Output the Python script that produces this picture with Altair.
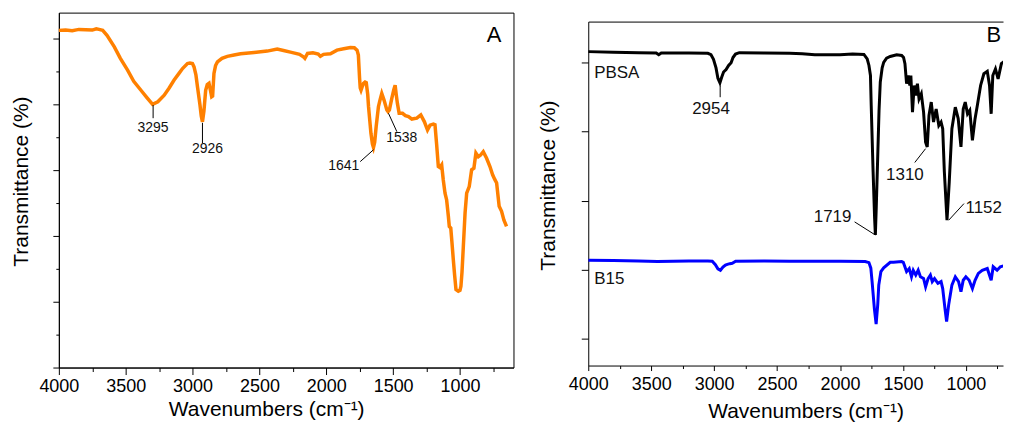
import altair as alt
import pandas as pd

FONT = "Liberation Sans"
ORANGE = "#FF8000"

# ---------------- Panel A : spectrum ----------------
a_wn = [4000, 3950, 3900, 3850, 3800, 3750, 3720, 3700, 3672, 3640, 3585, 3540, 3486, 3440, 3386,
        3340, 3299, 3260, 3212, 3175, 3138, 3100, 3075, 3038, 3020, 3001, 2989, 2975, 2963, 2945,
        2935, 2926, 2915, 2902, 2890, 2877, 2865, 2857, 2850, 2840, 2828, 2814, 2780, 2740, 2690,
        2641, 2540, 2442, 2367, 2320, 2268, 2200, 2169, 2160, 2140, 2100, 2060, 2044, 2020, 1969,
        1920, 1870, 1820, 1790, 1770, 1760, 1751, 1746, 1740, 1730, 1721, 1710, 1701, 1690, 1684,
        1666, 1655, 1647, 1638, 1627, 1610, 1597, 1585, 1568, 1547, 1538, 1528, 1510, 1495, 1485,
        1477, 1468, 1455, 1430, 1408, 1385, 1360, 1340, 1323, 1293, 1266, 1243, 1224, 1199, 1187,
        1175, 1162, 1150, 1137, 1125, 1112, 1100, 1087, 1080, 1069, 1060, 1050, 1040, 1030, 1013,
        1000, 993, 985, 975, 962, 950, 931, 913, 896, 881, 863, 846, 826, 801, 776, 756, 740, 726,
        707, 689, 672, 652]
a_tr = [102.5, 102.6, 102.4, 102.8, 102.7, 102.6, 103.0, 102.8, 102.5, 101.0, 97.5, 94.0, 90.4, 87.0, 84.3,
        82.0, 80.0, 80.8, 82.8, 85.0, 87.4, 89.5, 90.9, 92.4, 92.6, 92.4, 91.4, 89.0, 85.3, 80.0,
        76.5, 74.7, 78.0, 84.3, 86.0, 86.4, 84.0, 82.3, 82.5, 89.4, 91.8, 92.9, 94.0, 94.6, 95.0,
        95.4, 95.8, 96.2, 96.8, 96.4, 95.9, 95.2, 94.4, 94.0, 95.5, 95.7, 95.3, 94.6, 95.2, 95.4,
        96.5, 96.9, 97.3, 97.2, 96.5, 95.0, 88.0, 85.0, 84.3, 85.5, 86.4, 86.8, 86.6, 83.0, 79.3,
        71.2, 68.0, 66.9, 68.5, 73.2, 79.3, 81.5, 83.3, 81.3, 78.3, 77.8, 78.3, 81.8, 84.5, 85.8,
        83.0, 80.3, 77.3, 77.3, 76.6, 76.3, 75.5, 75.7, 75.8, 76.8, 74.7, 72.2, 73.7, 74.0, 73.8,
        68.0, 61.1, 60.8, 61.6, 57.0, 53.0, 51.0, 46.0, 42.9, 42.4, 38.0, 32.8, 28.0, 23.7, 23.2,
        23.5, 24.7, 29.0, 36.8, 47.0, 53.0, 55.0, 60.1, 60.6, 65.2, 64.1, 64.6, 65.6, 63.6, 61.1,
        58.6, 57.2, 56.1, 49.0, 47.5, 44.9, 42.9]

a_lab_text = ["3295", "2926", "1641", "1538"]
a_lab_x = [3295, 2889, 1870, 1435]
a_lab_y = [72.9, 66.4, 61.4, 69.9]
a_lead_x1 = [3295, 2926, 1647, 1535]
a_lead_x2 = [3295, 2926, 1746, 1472]
a_lead_y1 = [79.8, 74.4, 66.2, 77.3]
a_lead_y2 = [75.8, 68.2, 62.6, 71.7]

# ---------------- Panel B : spectra ----------------
pbsa_wn = [4000, 3800, 3600, 3460, 3440, 3420, 3200, 3050, 3025, 3005, 2985, 2970, 2954, 2940, 2925,
           2905, 2885, 2865, 2850, 2830, 2800, 2600, 2400, 2300, 2200, 2000, 1900, 1810, 1784, 1770,
           1758, 1752, 1737, 1725, 1719, 1712, 1700, 1690, 1680, 1665, 1653, 1630, 1601, 1550, 1510,
           1495, 1484, 1471, 1458, 1445, 1437, 1424, 1411, 1398, 1385, 1372, 1354, 1336, 1320, 1307,
           1293, 1275, 1257, 1236, 1215, 1197, 1184, 1171, 1150, 1132, 1111, 1084, 1061, 1039, 1021,
           1005, 987, 969, 948, 927, 909, 883, 857, 830, 812, 799, 786, 765, 744, 718, 686, 676]
pbsa_tr = [83.2, 83.0, 82.9, 82.8, 82.3, 82.8, 82.8, 82.7, 82.3, 81.0, 78.5, 75.5, 74.2, 75.8, 77.3,
           78.0, 79.2, 80.0, 81.5, 82.5, 82.9, 82.8, 82.7, 82.6, 82.3, 82.3, 82.5, 82.4, 81.1, 79.2,
           76.3, 67.6, 48.4, 35.0, 30.1, 38.0, 53.2, 66.0, 74.4, 78.5, 80.1, 81.3, 81.8, 82.3, 82.1,
           81.5, 79.7, 73.9, 76.3, 73.4, 76.3, 65.7, 73.4, 70.5, 73.9, 69.5, 71.0, 65.7, 57.0, 55.6,
           64.7, 68.6, 62.8, 66.6, 61.8, 62.8, 60.9, 48.4, 34.4, 45.5, 60.9, 67.1, 63.8, 55.6, 66.6,
           68.6, 65.2, 66.2, 57.5, 63.8, 67.6, 73.4, 76.8, 77.5, 73.4, 65.2, 76.3, 78.2, 75.3, 79.7, 80.6, 80.7]

b15_wn = [4000, 3800, 3600, 3450, 3200, 3050, 3015, 2990, 2970, 2950, 2930, 2910, 2895, 2875, 2856,
          2829, 2600, 2400, 2200, 2000, 1800, 1770, 1755, 1745, 1727, 1713, 1700, 1692, 1675, 1653,
          1601, 1575, 1510, 1497, 1471, 1450, 1432, 1418, 1398, 1379, 1361, 1336, 1320, 1300, 1282,
          1267, 1249, 1222, 1197, 1184, 1166, 1153, 1137, 1111, 1084, 1058, 1039, 1021, 1000, 974,
          948, 927, 901, 870, 830, 799, 783, 752, 726, 700, 676]
b15_tr = [22.8, 22.7, 22.6, 22.4, 22.6, 22.6, 22.5, 21.5, 20.3, 19.9, 20.8, 21.4, 21.6, 21.8, 21.9,
          22.5, 22.6, 22.5, 22.5, 22.5, 22.4, 22.1, 20.5, 16.6, 8.8, 4.3, 10.0, 15.6, 19.5, 20.6,
          22.2, 22.2, 22.4, 22.2, 19.5, 20.4, 18.0, 19.9, 18.5, 19.9, 18.0, 17.5, 15.1, 17.5, 18.5,
          16.6, 17.5, 16.1, 16.6, 14.6, 8.8, 5.0, 9.8, 15.6, 18.0, 16.6, 13.7, 17.0, 18.0, 17.0,
          14.6, 17.0, 19.0, 19.9, 20.4, 17.0, 20.9, 19.9, 20.9, 21.2, 21.3]

b_c_text = ["2954", "1719", "1310"]
b_c_x = [3025, 2059, 1484]
b_c_y = [66.6, 35.3, 47.4]
b_l_text = ["PBSA", "B15", "1152"]
b_l_x = [3953, 3953, 1003]
b_l_y = [77.0, 17.3, 38.0]
b_lead_x1 = [2952, 1884, 1406, 1136]
b_lead_x2 = [2952, 1719, 1320, 1015]
b_lead_y1 = [73.4, 33.9, 51.1, 34.4]
b_lead_y2 = [70.0, 30.1, 55.1, 39.2]

# ticks
x_major = [4000, 3500, 3000, 2500, 2000, 1500, 1000]
x_minor = [3750, 3250, 2750, 2250, 1750, 1250, 750]
a_y_major = [0, 20, 40, 60, 80, 100]
a_y_minor = [10, 30, 50, 70, 90]
b_y_major = [0, 20, 40, 60, 80]

XTITLE = "Wavenumbers (cm\u207b\u00b9)"
YTITLE = "Transmittance (%)"

# ---------------- build panel A ----------------
df_a = pd.DataFrame({"wn": a_wn, "tr": a_tr})
df_a_lab = pd.DataFrame({"x": a_lab_x, "y": a_lab_y, "t": a_lab_text})
df_a_lead = pd.DataFrame({"x1": a_lead_x1, "x2": a_lead_x2, "y1": a_lead_y1, "y2": a_lead_y2})
df_a_letter = pd.DataFrame({"x": [746], "y": [101.0], "t": ["A"]})

xs_a = alt.Scale(domain=[600, 4000], reverse=True, nice=False, zero=False)
ys_a = alt.Scale(domain=[0, 107.9], nice=False, zero=False)

a_line = alt.Chart(df_a).mark_line(color=ORANGE, strokeWidth=3.5).encode(
    x=alt.X("wn:Q", scale=xs_a, axis=alt.Axis(values=x_major, format="d", orient="bottom",
            tickSize=7, labelFontSize=18, labelPadding=3, labelFlush=False, title=XTITLE,
            titleFontSize=21, titlePadding=3, titleX=208)),
    y=alt.Y("tr:Q", scale=ys_a, axis=alt.Axis(values=a_y_major, labels=False, orient="left",
            tickSize=6, title=YTITLE, titleFontSize=21, titlePadding=21, titleY=169)),
)
a_rules = alt.Chart(df_a_lead).mark_rule(color="black", strokeWidth=1).encode(
    x=alt.X("x1:Q", scale=xs_a, axis=alt.Axis(values=x_minor, orient="bottom", tickSize=4,
            labels=False, domain=False, title=None)),
    x2="x2:Q",
    y=alt.Y("y1:Q", scale=ys_a, axis=alt.Axis(values=a_y_minor, orient="left", tickSize=3,
            labels=False, domain=False, title=None)),
    y2="y2:Q",
)
a_text = alt.Chart(df_a_lab).mark_text(fontSize=14, align="center", baseline="middle",
                                       color="#111111").encode(
    x=alt.X("x:Q", scale=xs_a, axis=None),
    y=alt.Y("y:Q", scale=ys_a, axis=None),
    text="t:N",
)
a_letter = alt.Chart(df_a_letter).mark_text(fontSize=22, align="center", baseline="middle",
                                            color="black").encode(
    x=alt.X("x:Q", scale=xs_a, axis=None),
    y=alt.Y("y:Q", scale=ys_a, axis=None),
    text="t:N",
)
panel_a = alt.layer(a_line, a_rules, a_text, a_letter).resolve_axis(
    x="independent", y="independent"
).properties(width=456, height=356,
             view=alt.ViewBackground(stroke="black", strokeWidth=1))

# ---------------- build panel B ----------------
df_b = pd.concat([
    pd.DataFrame({"wn": pbsa_wn, "tr": pbsa_tr, "s": "PBSA"}),
    pd.DataFrame({"wn": b15_wn, "tr": b15_tr, "s": "B15"}),
])
df_b_c = pd.DataFrame({"x": b_c_x, "y": b_c_y, "t": b_c_text})
df_b_l = pd.DataFrame({"x": b_l_x, "y": b_l_y, "t": b_l_text})
df_b_lead = pd.DataFrame({"x1": b_lead_x1, "x2": b_lead_x2, "y1": b_lead_y1, "y2": b_lead_y2})
df_b_letter = pd.DataFrame({"x": [778], "y": [87.9], "t": ["B"]})

xs_b = alt.Scale(domain=[705, 4000], reverse=True, nice=False, zero=False)
ys_b = alt.Scale(domain=[-7.7, 91.9], nice=False, zero=False)

b_line = alt.Chart(df_b).mark_line(strokeWidth=3, clip=True).encode(
    x=alt.X("wn:Q", scale=xs_b, axis=alt.Axis(values=x_major, format="d", orient="bottom",
            tickSize=5, labelFontSize=18, labelPadding=5, labelFlush=False, title=XTITLE,
            titleFontSize=21, titlePadding=7, titleX=218)),
    y=alt.Y("tr:Q", scale=ys_b, axis=alt.Axis(values=b_y_major, labels=False, orient="left",
            tickSize=7, title=YTITLE, titleFontSize=21, titlePadding=22, titleY=164)),
    color=alt.Color("s:N", scale=alt.Scale(domain=["PBSA", "B15"], range=["#000000", "#0000FF"]),
                    legend=None),
    detail="s:N",
)
b_rules = alt.Chart(df_b_lead).mark_rule(color="black", strokeWidth=1).encode(
    x=alt.X("x1:Q", scale=xs_b, axis=alt.Axis(values=x_minor, orient="bottom", tickSize=3,
            labels=False, domain=False, title=None)),
    x2="x2:Q",
    y=alt.Y("y1:Q", scale=ys_b, axis=None),
    y2="y2:Q",
)
b_text_c = alt.Chart(df_b_c).mark_text(fontSize=17, align="center", baseline="middle",
                                       color="#111111").encode(
    x=alt.X("x:Q", scale=xs_b, axis=alt.Axis(orient="top", labels=False, ticks=False,
            domain=True, title=None)),
    y=alt.Y("y:Q", scale=ys_b, axis=None),
    text="t:N",
)
b_text_l = alt.Chart(df_b_l).mark_text(fontSize=17, align="left", baseline="middle",
                                       color="#111111", clip=True).encode(
    x=alt.X("x:Q", scale=xs_b, axis=None),
    y=alt.Y("y:Q", scale=ys_b, axis=None),
    text="t:N",
)
b_letter = alt.Chart(df_b_letter).mark_text(fontSize=22, align="center", baseline="middle",
                                            color="black").encode(
    x=alt.X("x:Q", scale=xs_b, axis=None),
    y=alt.Y("y:Q", scale=ys_b, axis=None),
    text="t:N",
)
panel_b = alt.layer(b_line, b_rules, b_text_c, b_text_l, b_letter).resolve_axis(
    x="independent", y="independent"
).properties(width=416, height=345,
             view=alt.ViewBackground(stroke="transparent"))

# invisible spacer that pushes panel B down a little
spacer = alt.Chart(pd.DataFrame({"v": [0]})).mark_point(opacity=0, size=1).properties(
    width=10, height=1, view=alt.ViewBackground(stroke="transparent"))

right = alt.vconcat(spacer, panel_b, spacing=6)

chart = alt.hconcat(panel_a, right, spacing=23).properties(
    padding={"left": 2, "top": 3, "right": 0, "bottom": 0}
).configure_axis(
    grid=False, domainColor="black", tickColor="black", labelColor="black",
    titleColor="black", labelFont=FONT, titleFont=FONT, titleFontWeight="normal",
    domainWidth=1, tickWidth=1,
).configure_text(font=FONT).configure_title(font=FONT)

chart.save("out.html", embed_options={"renderer": "svg", "actions": False})
